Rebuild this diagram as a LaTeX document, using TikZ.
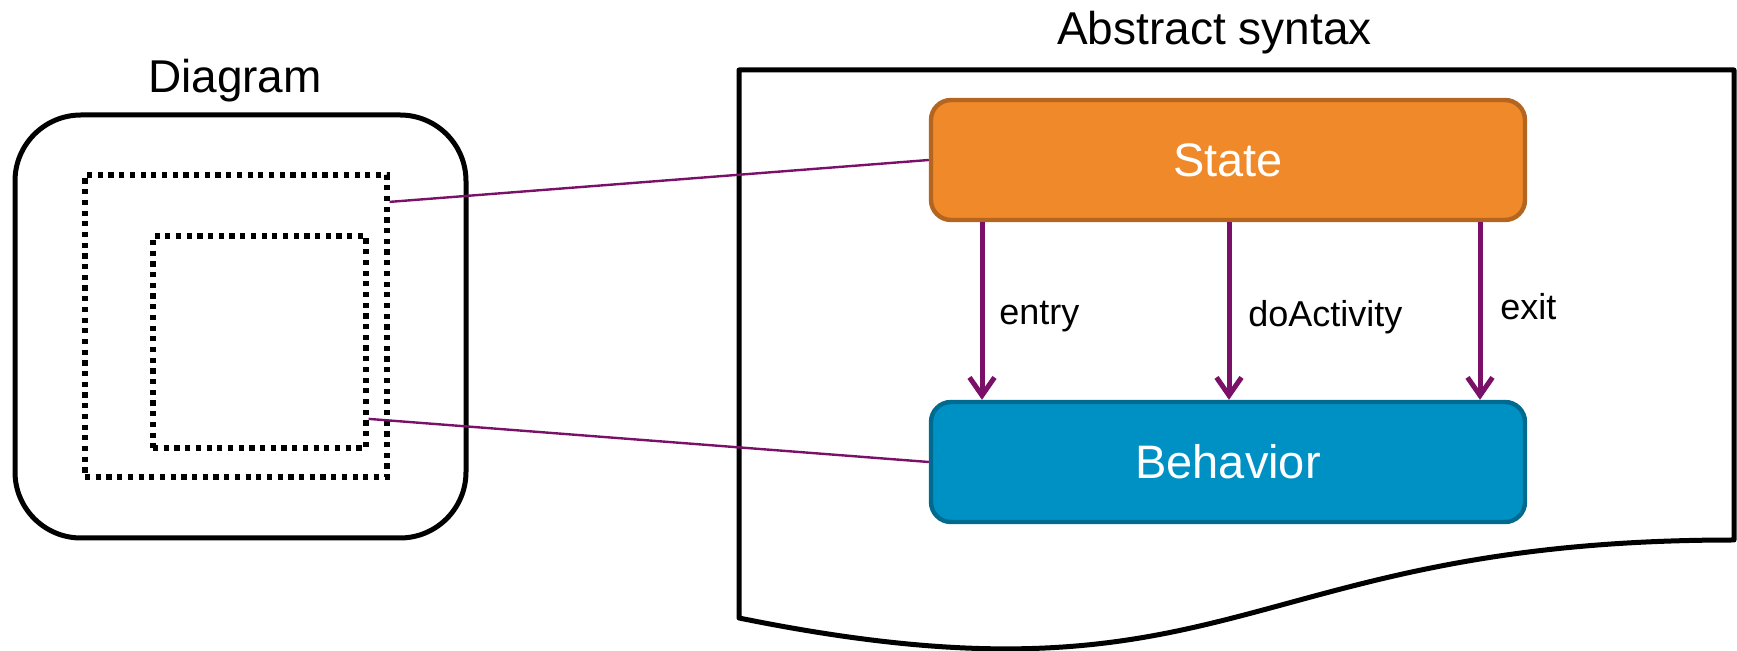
\documentclass[tikz,border=0pt]{standalone}
\usepackage{fontspec}
\setmainfont{Liberation Sans}
\usetikzlibrary{arrows.meta,calc}
\definecolor{stateFill}{RGB}{239,137,42}
\definecolor{stateLine}{RGB}{180,101,31}
\definecolor{behFill}{RGB}{0,145,196}
\definecolor{behLine}{RGB}{0,106,144}
\definecolor{link}{RGB}{122,16,104}
\tikzset{
  title/.style={font=\fontsize{23pt}{27pt}\selectfont, inner sep=0pt, anchor=base},
  frame/.style={draw=black, line width=2.5pt, rounded corners=33pt, inner sep=0pt},
  dotbox/.style={draw=black, line width=2.6pt, dash pattern=on 2.6pt off 2.75pt, inner sep=0pt},
  classbox/.style={line width=2.2pt, rounded corners=10pt, minimum width=297pt, minimum height=60pt,
    text=white, font=\fontsize{23.5pt}{28pt}\selectfont, inner sep=0pt},
  statebox/.style={classbox, draw=stateLine, fill=stateFill},
  behbox/.style={classbox, draw=behLine, fill=behFill},
  assoc/.style={draw=link, line width=2.5pt, -{Straight Barb[length=9pt,width=12.5pt]}},
  rolelabel/.style={font=\fontsize{18pt}{22pt}\selectfont, inner sep=0pt, anchor=base west},
  trace/.style={draw=link, line width=1.2pt}
}
\begin{document}
\begin{tikzpicture}[x=0.5pt, y=-0.5pt]
\useasboundingbox (0,0) rectangle (1737,651);

% concrete syntax: nested shapes of a diagram
\node[title] (diagTitle) at (235,93) {Diagram};
\node[frame, minimum width=225.5pt, minimum height=211.5pt] (frame) at (240.5,326.5) {};
\node[dotbox, minimum width=151pt, minimum height=151pt] (outerSq) at (236,326) {};
\node[dotbox, minimum width=106.5pt, minimum height=106pt] (innerSq) at (259.5,342) {};

% abstract syntax: document sheet with a wavy lower edge
\node[title] (absTitle) at (1214.5,45) {Abstract syntax};
\draw[line width=2.5pt, line join=round]
  (739,70) -- (1734,70) -- (1734,540)
  .. controls (1237,540) and (1237,719) .. (739,618) -- cycle;

% metaclasses
\node[statebox] (state) at (1228,160) {State};
\node[behbox] (behavior) at (1228,462) {Behavior};

% associations from State to Behavior
\draw[assoc] ([xshift=-123pt]state.south) -- ([xshift=-123pt]behavior.north);
\draw[assoc] ([xshift=0.5pt]state.south) -- ([xshift=0.5pt]behavior.north);
\draw[assoc] ([xshift=126pt]state.south) -- ([xshift=126pt]behavior.north);
\node[rolelabel] (lEntry) at (999,325) {entry};
\node[rolelabel] (lDo) at (1248,327) {doActivity};
\node[rolelabel] (lExit) at (1500,320) {exit};

% traces from diagram shapes to their metaclasses
\draw[trace] ($(outerSq.north east)!0.096!(outerSq.south east)$) -- (state.west);
\draw[trace] ($(innerSq.north east)!0.854!(innerSq.south east)$) -- (behavior.west);
\end{tikzpicture}
\end{document}
